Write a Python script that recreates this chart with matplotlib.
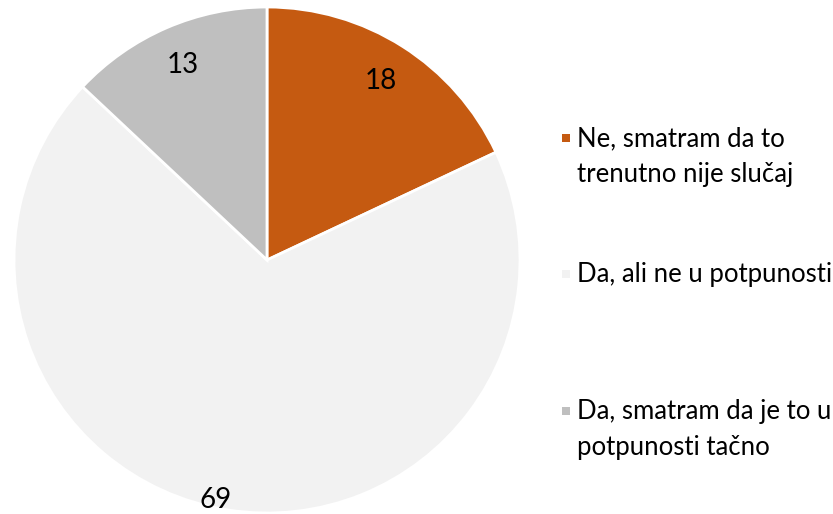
import matplotlib
matplotlib.use("Agg")
import matplotlib.pyplot as plt
from matplotlib.patches import Rectangle
import numpy as np

plt.rcParams['font.family'] = ['Lato', 'DejaVu Sans']

labels = ['Ne, smatram da to\ntrenutno nije slučaj',
          'Da, ali ne u potpunosti',
          'Da, smatram da je to u\npotpunosti tačno']
values = [18, 69, 13]
colors = ['#C55A11', '#F2F2F2', '#BFBFBF']

W, H = 833, 514
fig = plt.figure(figsize=(W / 100, H / 100), dpi=100)

# pie centre / radius in pixels
cx, cy, R = 267, 254, 253
ax = fig.add_axes([(cx - R) / W, (cy - R) / H, 2 * R / W, 2 * R / H])

wedges, texts, autotexts = ax.pie(values, colors=colors, startangle=90, counterclock=False,
                                  autopct=lambda p: '%d' % round(p), pctdistance=0.84,
                                  wedgeprops=dict(edgecolor='white', linewidth=2),
                                  textprops=dict(fontsize=20, color='black'))
ax.set_xlim(-1, 1)
ax.set_ylim(-1, 1)
ax.set_aspect('equal')

# the big slice's label sits near the rim
w = wedges[1]
ang = np.deg2rad((w.theta1 + w.theta2) / 2)
autotexts[1].set_position((0.97 * np.cos(ang) - 0.05, 0.96 * np.sin(ang)))

# legend
ys = [140, 276, 413]
for lab, col, y in zip(labels, colors, ys):
    fig.patches.append(Rectangle(((562) / W, 1 - (y + 2) / H), 8 / W, 8 / H,
                                 transform=fig.transFigure, facecolor=col, edgecolor='none'))
    fig.text(577 / W, 1 - (y - 14) / H, lab, fontsize=18.5, va='top', ha='left',
             linespacing=1.55, color='black')

fig.savefig('out.png', dpi=100)
